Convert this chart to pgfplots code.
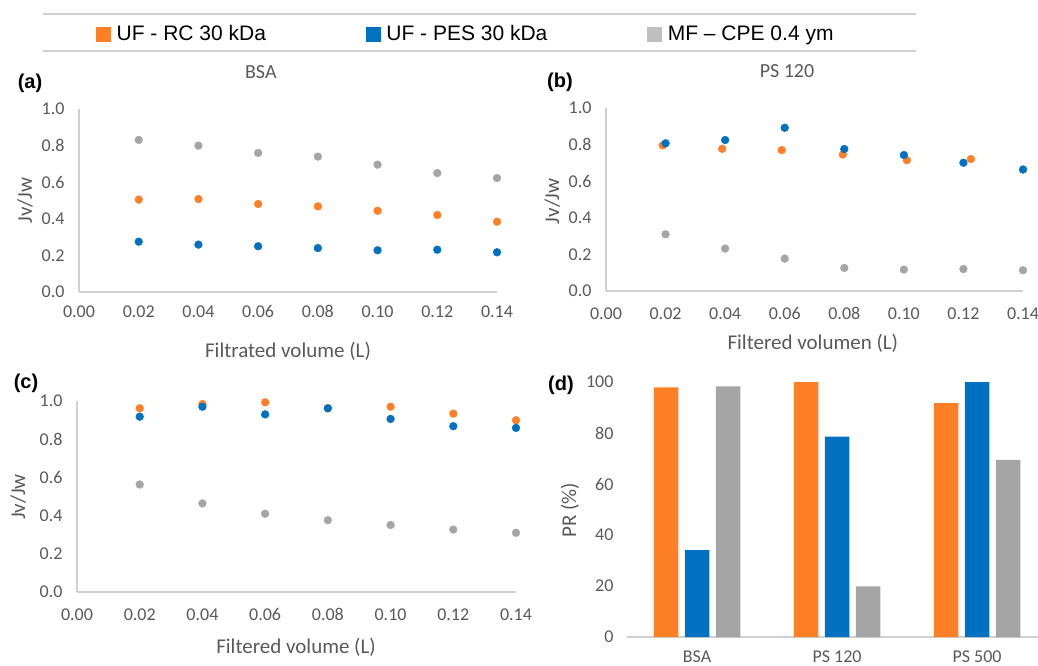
\documentclass[border=0pt]{standalone}
\usepackage{fontspec}
\setmainfont{Liberation Sans}
\newfontfamily\carlito{Carlito}
\usepackage{pgfplots}
\pgfplotsset{compat=1.18}
\definecolor{cOr}{HTML}{FF7F27}
\definecolor{cBl}{HTML}{0070C0}
\definecolor{cGr}{HTML}{A5A5A5}
\definecolor{cGrL}{HTML}{BFBFBF}
\definecolor{labgray}{HTML}{595959}
\definecolor{axgray}{HTML}{D0D0D0}
\pgfplotsset{
  base/.style={scale only axis, axis x line*=bottom, axis y line*=left,
    axis line style={draw=axgray, line width=1.2pt, -},
    major tick length=0pt,
    tick label style={font=\carlito\fontsize{18}{18}\selectfont, text=labgray},
    label style={font=\carlito\fontsize{21}{21}\selectfont, text=labgray},
    title style={font=\carlito\fontsize{20}{20}\selectfont, text=labgray},
    /pgf/number format/assume math mode=true,
    clip=false,
  },
  scat/.style={base, xmin=0, xmax=0.14, ymin=0, ymax=1,
    xtick={0,0.02,0.04,0.06,0.08,0.10,0.12,0.14}, ytick={0,0.2,0.4,0.6,0.8,1.0},
    x tick label style={/pgf/number format/fixed, /pgf/number format/fixed zerofill, /pgf/number format/precision=2},
    y tick label style={/pgf/number format/fixed, /pgf/number format/fixed zerofill, /pgf/number format/precision=1, xshift=-11pt},
  },
  dotO/.style={only marks, mark=*, mark size=3.9pt, mark options={draw=cOr, fill=cOr}},
  dotB/.style={only marks, mark=*, mark size=3.9pt, mark options={draw=cBl, fill=cBl}},
  dotG/.style={only marks, mark=*, mark size=3.9pt, mark options={draw=cGr, fill=cGr}},
}
\begin{document}
\begin{tikzpicture}
\path[use as bounding box] (0pt,0pt) rectangle (1038pt,-666pt);
% legend frame lines
\draw[axgray, line width=1.2pt] (43pt,-14pt) -- (916pt,-14pt);
\draw[axgray, line width=1.2pt] (43pt,-51pt) -- (916pt,-51pt);

% (a)
\begin{axis}[scat, width=418pt, height=183pt, at={(79pt,-292pt)}, anchor=south west,
  x tick label style={yshift=-10pt},
  title={BSA}, title style={at={(axis description cs:0.435,1.169)}, anchor=center},
  xlabel={Filtrated volume (L)}, xlabel style={at={(axis description cs:0.5,-0.322)}, anchor=center},
  ylabel={Jv/Jw}, ylabel style={at={(axis description cs:-0.129,0.5)}, anchor=center},
  legend columns=3,
  legend style={at={(axis description cs:0.0407,1.41)}, anchor=west, draw=none, fill=none,
    inner sep=0pt, font=\fontsize{21}{21}\selectfont, nodes={inner sep=0pt},
    /tikz/every odd column/.append style={column sep=6pt},
    /tikz/every even column/.append style={column sep=100pt}},
  legend cell align=left]
\addlegendimage{legend image code/.code={\fill[cOr] (0pt,-7pt) rectangle (14pt,7pt);}}
\addlegendentry{UF - RC 30 kDa}
\addlegendimage{legend image code/.code={\fill[cBl] (0pt,-7pt) rectangle (14pt,7pt);}}
\addlegendentry{UF - PES 30 kDa}
\addlegendimage{legend image code/.code={\fill[cGrL] (0pt,-7pt) rectangle (14pt,7pt);}}
\addlegendentry{MF – CPE 0.4 ym}
\addplot[dotO, forget plot] coordinates {(0.02,0.505)(0.04,0.508)(0.06,0.481)(0.08,0.468)(0.10,0.444)(0.12,0.421)(0.14,0.384)};
\addplot[dotB, forget plot] coordinates {(0.02,0.275)(0.04,0.259)(0.06,0.250)(0.08,0.240)(0.10,0.228)(0.12,0.231)(0.14,0.217)};
\addplot[dotG, forget plot] coordinates {(0.02,0.831)(0.04,0.800)(0.06,0.760)(0.08,0.740)(0.10,0.696)(0.12,0.650)(0.14,0.623)};
\end{axis}

% (b)
\begin{axis}[scat, width=417pt, height=183pt, at={(606pt,-291pt)}, anchor=south west,
  x tick label style={yshift=-13pt},
  title={PS 120}, title style={at={(axis description cs:0.434,1.169)}, anchor=center},
  xlabel={Filtered volumen (L)}, xlabel style={at={(axis description cs:0.496,-0.284)}, anchor=center},
  ylabel={Jv/Jw}, ylabel style={at={(axis description cs:-0.129,0.49)}, anchor=center}]
\addplot[dotO] coordinates {(0.019,0.796)(0.039,0.777)(0.059,0.770)(0.0795,0.746)(0.101,0.715)(0.1225,0.721)};
\addplot[dotB] coordinates {(0.02,0.807)(0.04,0.825)(0.06,0.892)(0.08,0.776)(0.10,0.743)(0.12,0.701)(0.14,0.664)};
\addplot[dotG] coordinates {(0.02,0.310)(0.04,0.232)(0.06,0.177)(0.08,0.126)(0.10,0.117)(0.12,0.120)(0.14,0.113)};
\end{axis}

% (c)
\begin{axis}[scat, width=439pt, height=191pt, at={(77pt,-592pt)}, anchor=south west,
  x tick label style={yshift=-13pt},
  xlabel={Filtered volume (L)}, xlabel style={at={(axis description cs:0.499,-0.288)}, anchor=center},
  ylabel={Jv/Jw}, ylabel style={at={(axis description cs:-0.134,0.497)}, anchor=center}]
\addplot[dotO] coordinates {(0.02,0.962)(0.04,0.984)(0.06,0.993)(0.08,0.962)(0.10,0.970)(0.12,0.934)(0.14,0.899)};
\addplot[dotB] coordinates {(0.02,0.918)(0.04,0.970)(0.06,0.930)(0.08,0.962)(0.10,0.906)(0.12,0.868)(0.14,0.859)};
\addplot[dotG] coordinates {(0.02,0.563)(0.04,0.464)(0.06,0.410)(0.08,0.376)(0.10,0.351)(0.12,0.327)(0.14,0.310)};
\end{axis}

% (d)
\begin{axis}[base, ybar=6.5pt, bar width=24.5pt, width=420pt, height=255pt,
  at={(627pt,-637pt)}, anchor=south west,
  xmin=-0.5, xmax=2.5, ymin=0, ymax=100,
  xtick={0,1,2}, xticklabels={BSA,PS 120,PS 500},
  ytick={0,20,40,60,80,100},
  y axis line style={draw=none},
  x tick label style={yshift=-10pt},
  y tick label style={xshift=-10pt},
  ylabel={PR (\%)}, ylabel style={at={(axis description cs:-0.136,0.498)}, anchor=center}]
\addplot[fill=cOr, draw=none] coordinates {(0,97.9) (1,100) (2,91.7)};
\addplot[fill=cBl, draw=none] coordinates {(0,34.1) (1,78.6) (2,100)};
\addplot[fill=cGr, draw=none] coordinates {(0,98.3) (1,19.9) (2,69.5)};
\end{axis}

% panel labels
\node[font=\bfseries\fontsize{20}{20}\selectfont] at (30pt,-83pt) {(a)};
\node[font=\bfseries\fontsize{20}{20}\selectfont] at (560pt,-82pt) {(b)};
\node[font=\bfseries\fontsize{20}{20}\selectfont] at (26pt,-383pt) {(c)};
\node[font=\bfseries\fontsize{20}{20}\selectfont] at (561pt,-385pt) {(d)};
\end{tikzpicture}
\end{document}
